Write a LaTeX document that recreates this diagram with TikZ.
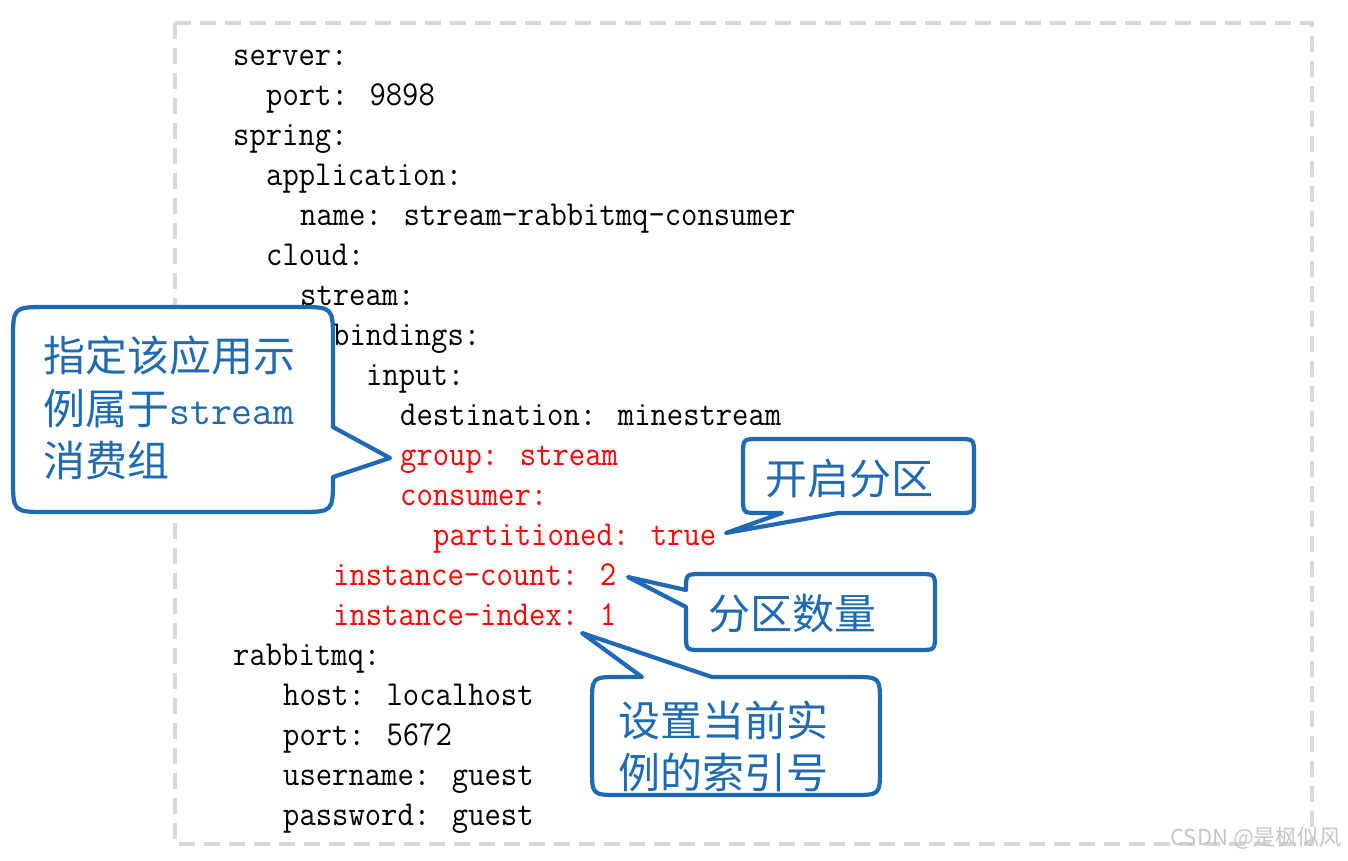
\documentclass[tikz,border=0pt]{standalone}
\usepackage{fontspec}
\usepackage{graphicx}
\newfontfamily\cjk{Noto Sans CJK SC}
\definecolor{callblue}{RGB}{31,106,181}
\definecolor{framegray}{RGB}{217,217,217}
\newcommand\cl[1]{\scalebox{0.906}[1]{#1}}
\begin{document}
\begin{tikzpicture}[x=1pt,y=-1pt,
  code/.style={anchor=base west, inner sep=0pt, text=black, font=\ttfamily\fontsize{35}{40}\selectfont},
  hl/.style={code, text=red},
  ctext/.style={anchor=base west, inner sep=0pt, text=callblue, font=\cjk\fontsize{42}{52}\selectfont},
  callout/.style={draw=callblue, line width=4.2pt, fill=white, line join=round},
  frame/.style={draw=framegray, line width=3.5pt, dash pattern=on 16pt off 9pt}
]
\useasboundingbox (0,0) rectangle (1348,860);
% frame
\draw[frame] (175,23) rectangle (1312,844);
% code
\node[code] (l1)  at (233,65)  {\cl{server:}};
\node[code] (l2)  at (266,105) {\cl{port: 9898}};
\node[code] (l3)  at (233,145) {\cl{spring:}};
\node[code] (l4)  at (266,185) {\cl{application:}};
\node[code] (l5)  at (300,225) {\cl{name: stream-rabbitmq-consumer}};
\node[code] (l6)  at (266,265) {\cl{cloud:}};
\node[code] (l7)  at (300,305) {\cl{stream:}};
\node[code] (l8)  at (333,345) {\cl{bindings:}};
\node[code] (l9)  at (366,385) {\cl{input:}};
\node[code] (l10) at (400,425) {\cl{destination: minestream}};
\node[hl]   (l11) at (400,465) {\cl{group: stream}};
\node[hl]   (l12) at (400,505) {\cl{consumer:}};
\node[hl]   (l13) at (433,545) {\cl{partitioned: true}};
\node[hl]   (l14) at (333,585) {\cl{instance-count: 2}};
\node[hl]   (l15) at (333,625) {\cl{instance-index: 1}};
\node[code] (l16) at (233,665) {\cl{rabbitmq:}};
\node[code] (l17) at (283,705) {\cl{host: localhost}};
\node[code] (l18) at (283,745) {\cl{port: 5672}};
\node[code] (l19) at (283,785) {\cl{username: guest}};
\node[code] (l20) at (283,825) {\cl{password: guest}};
% callout 1
\path[callout] (47,307) -- (299,307) .. controls (333,307) .. (333,341) -- (333,427)
  -- (390,458) -- (333,477) -- (333,478) .. controls (333,512) .. (299,512)
  -- (47,512) .. controls (13,512) .. (13,478) -- (13,341) .. controls (13,307) .. (47,307) -- cycle;
\node[ctext] (c1a) at (43,371) {指定该应用示};
\node[ctext] (c1b) at (43,424) {例属于{\ttfamily\fontsize{40.6}{52}\selectfont stream}};
\node[ctext] (c1c) at (43,476) {消费组};
% callout 2
\path[callout] (759,439) -- (958,439) .. controls (974,439) .. (974,455) -- (974,497)
  .. controls (974,513) .. (958,513) -- (838,513) -- (726,533) -- (782,513) -- (759,513)
  .. controls (743,513) .. (743,497) -- (743,455) .. controls (743,439) .. (759,439) -- cycle;
\node[ctext] (c2) at (765,494) {开启分区};
% callout 3
\path[callout] (702,574) -- (919,574) .. controls (935,574) .. (935,590) -- (935,634)
  .. controls (935,650) .. (919,650) -- (702,650) .. controls (686,650) .. (686,634)
  -- (686,607) -- (628,577) -- (686,590) .. controls (686,574) .. (702,574) -- cycle;
\node[ctext] (c3) at (708,629) {分区数量};
% callout 4
\path[callout] (619,677) -- (642,677) -- (582,633) -- (712,677) -- (853,677)
  .. controls (880,677) .. (880,704) -- (880,768) .. controls (880,795) .. (853,795)
  -- (619,795) .. controls (592,795) .. (592,768) -- (592,704) .. controls (592,677) .. (619,677) -- cycle;
\node[ctext] (c4a) at (618,736) {设置当前实};
\node[ctext] (c4b) at (618,788) {例的索引号};
% watermark
\node[anchor=east, inner sep=0pt, text=gray!45, font=\cjk\fontsize{22}{24}\selectfont] (wm) at (1342,838) {CSDN @是枫似风};
\end{tikzpicture}
\end{document}
